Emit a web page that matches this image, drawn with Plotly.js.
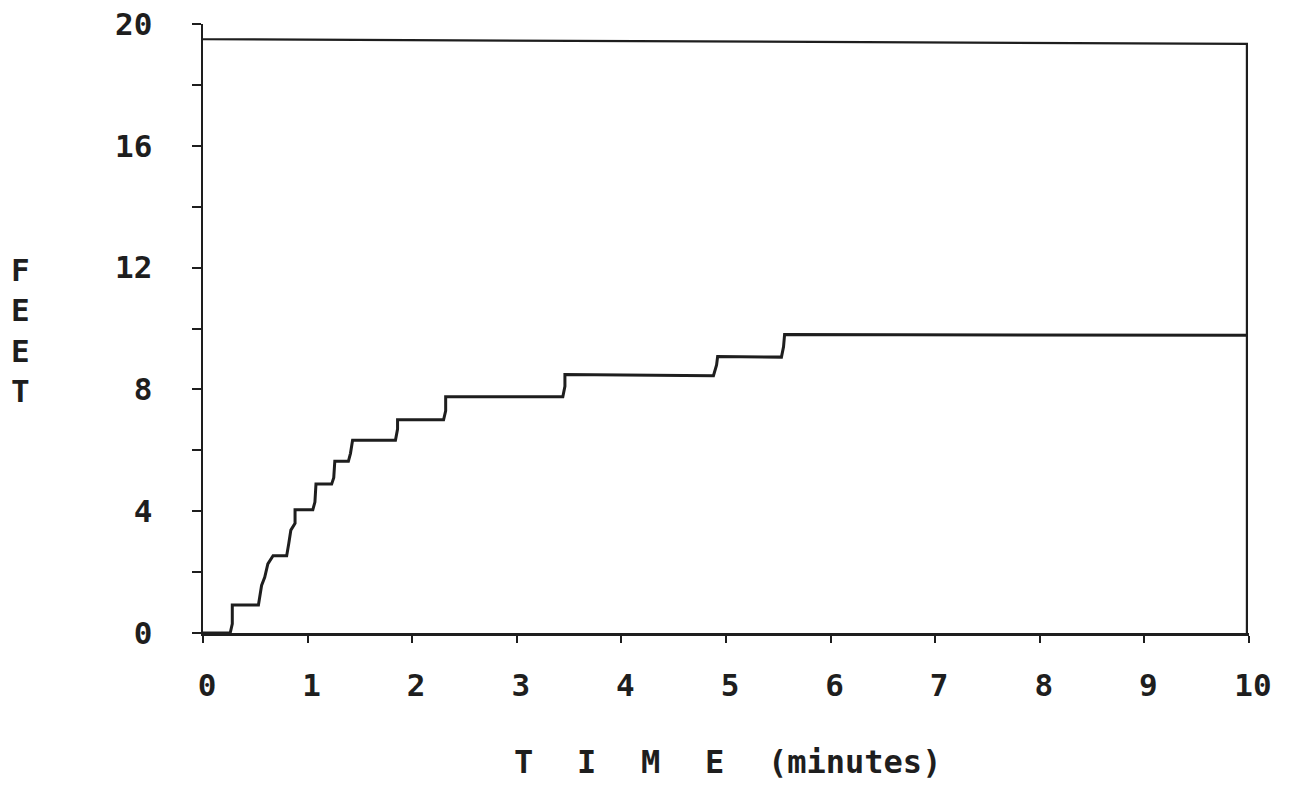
<!DOCTYPE html>
<html>
<head>
<meta charset="utf-8">
<script src="https://cdn.plot.ly/plotly-3.0.1.min.js"></script>
<style>
  html, body { margin: 0; padding: 0; background: #fff; }
  #chart { width: 1292px; height: 786px; }
</style>
</head>
<body>
<div id="chart"></div>
<script>
// Time in minutes and depth in feet for the stepped curve
var timeMinutes = [0, 0.26, 0.28, 0.28, 0.53, 0.56, 0.59, 0.62, 0.67, 0.80, 0.82, 0.84, 0.88, 0.88,
                   1.05, 1.07, 1.08, 1.23, 1.25, 1.26, 1.39, 1.41, 1.43, 1.84, 1.86, 1.86,
                   2.30, 2.32, 2.32, 3.44, 3.46, 3.46, 4.88, 4.91, 4.92, 5.53, 5.55, 5.56, 9.98];
var feetValues  = [0, 0, 0.3, 0.92, 0.92, 1.56, 1.83, 2.27, 2.54, 2.54, 2.94, 3.38, 3.6, 4.05,
                   4.05, 4.3, 4.89, 4.89, 5.1, 5.64, 5.64, 5.9, 6.33, 6.33, 6.7, 7.0,
                   7.0, 7.3, 7.76, 7.76, 8.1, 8.49, 8.45, 8.8, 9.08, 9.06, 9.4, 9.8, 9.78];

// Upper boundary line and right edge
var boundTime = [0, 9.98, 9.98];
var boundFeet = [19.5, 19.35, 0];

// Axis ticks
var yTickVals = [0, 2, 4, 6, 8, 10, 12, 14, 16, 18, 20];
var yTickText = ['0', '', '4', '', '8', '', '12', '', '16', '', '20'];
var xTickVals = [0, 1, 2, 3, 4, 5, 6, 7, 8, 9, 10];
var xTickText = ['0', '1', '2', '3', '4', '5', '6', '7', '8', '9', '10'];

// Title pieces
var xTitleParts = ['T', 'I', 'M', 'E', '(minutes)'];
var xTitlePos = [3.06, 3.67, 4.28, 4.89, 6.23];
var yTitle = ['F', 'E', 'E', 'T'];

var ink = '#1e1e1e';
var fontFam = '"DejaVu Sans Mono", "Liberation Mono", monospace';

var traces = [
  {
    x: boundTime, y: boundFeet, type: 'scatter', mode: 'lines',
    line: { color: ink, width: 2.2 }, hoverinfo: 'skip', showlegend: false
  },
  {
    x: timeMinutes, y: feetValues, type: 'scatter', mode: 'lines',
    line: { color: ink, width: 3 }, showlegend: false
  }
];

var annotations = xTitleParts.map(function (t, i) {
  return {
    text: t, x: xTitlePos[i], xref: 'x', y: -0.212, yref: 'paper',
    xanchor: 'center', yanchor: 'middle', showarrow: false,
    font: { family: fontFam, size: 32, color: ink, weight: 'bold' }
  };
});
annotations.push({
  text: yTitle.join('<br>'), xref: 'paper', x: (20 - 203) / 1046,
  yref: 'paper', y: 0.4975,
  xanchor: 'center', yanchor: 'middle', showarrow: false, align: 'center',
  font: { family: fontFam, size: 31, color: ink, weight: 'bold' }
});

var layout = {
  width: 1292, height: 786,
  margin: { l: 203, r: 43, t: 24, b: 153 },
  paper_bgcolor: '#ffffff', plot_bgcolor: '#ffffff',
  showlegend: false,
  xaxis: {
    range: [0, 10], showgrid: false, zeroline: false,
    showline: true, linecolor: ink, linewidth: 2.5,
    ticks: 'outside', ticklen: 7, tickwidth: 2, tickcolor: ink,
    tickmode: 'array', tickvals: xTickVals, ticktext: xTickText,
    ticklabelstandoff: 16, ticklabelshift: 4,
    tickfont: { family: fontFam, size: 31, color: ink, weight: 'bold' }
  },
  yaxis: {
    range: [0, 20], showgrid: false, zeroline: false,
    showline: true, linecolor: ink, linewidth: 2.5,
    ticks: 'outside', ticklen: 9, tickwidth: 2, tickcolor: ink,
    tickmode: 'array', tickvals: yTickVals, ticktext: yTickText,
    ticklabelstandoff: 33,
    tickfont: { family: fontFam, size: 31, color: ink, weight: 'bold' }
  },
  annotations: annotations
};

Plotly.newPlot('chart', traces, layout, { displayModeBar: false, staticPlot: true });
</script>
</body>
</html>
